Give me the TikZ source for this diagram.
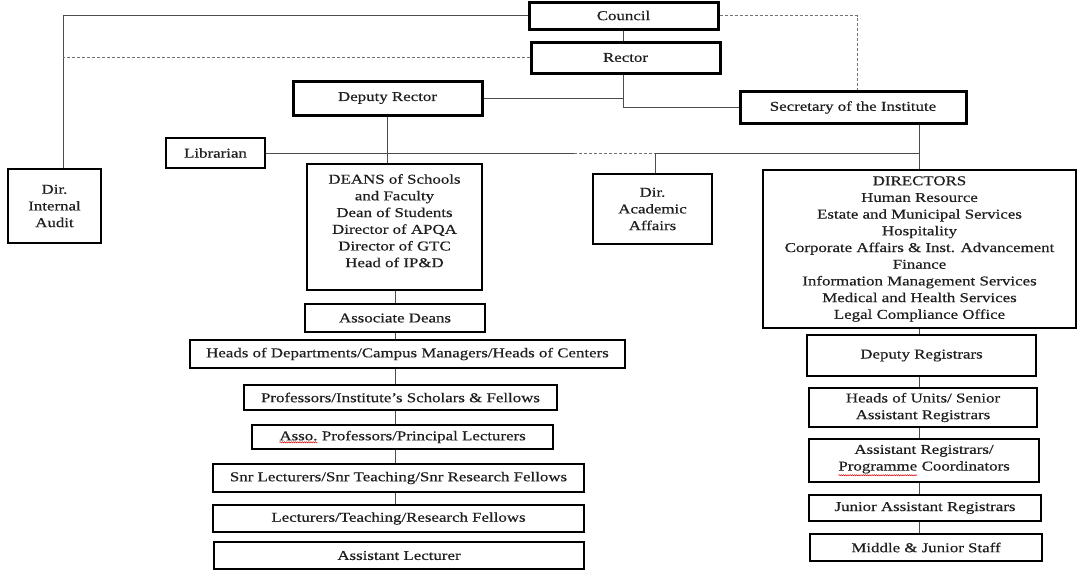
\documentclass[tikz,border=0pt]{standalone}
\usepackage{fontspec}
\setmainfont{Liberation Serif}[FakeStretch=1.25, FakeBold=0.5]
\usetikzlibrary{decorations.pathmorphing}

\tikzset{>=latex}

% red spell-check wave under a word
\newcommand{\spellerr}[1]{\tikz[baseline=(sp.base)]{\node[draw=none, inner sep=0pt, outer sep=0pt, minimum size=0pt] (sp) {#1};
	\draw[red!85!black, line width=0.5pt, decorate, decoration={snake, amplitude=0.6pt, segment length=2.2pt}] ([yshift=-1.8pt]sp.south west) -- ([yshift=-1.8pt]sp.south east);}}

\begin{document}
\begin{tikzpicture}[x=1pt, y=-1pt]
	\tikzstyle{post} = [rectangle, draw=black, line width=1.2pt, align=center, inner sep=1pt, text=black!88, font=\fontsize{13.5}{16.7}\selectfont]
	\tikzstyle{keypost} = [post, line width=3pt]
	\tikzstyle{link} = [draw=black!70, line width=0.9pt]
	\tikzstyle{dashlink} = [draw=black!55, line width=0.8pt, dash pattern=on 3pt off 2pt]

	\useasboundingbox (0,0) rectangle (1080,574);

%----------Top of the chart------------------------------
	\node[keypost, minimum width=189, minimum height=27] (council) at (623.5,15.5) {Council};
	\node[keypost, minimum width=189, minimum height=31] (rector) at (625.5,57.5) {Rector};
	\node[keypost, minimum width=189, minimum height=34] (deputy) at (387.5,98) {Deputy Rector};
	\node[keypost, minimum width=226, minimum height=32] (secretary) at (853,107.5) {Secretary of the Institute};

	\node[post, minimum width=99, minimum height=30] (librarian) at (215.5,153) {Librarian};
	\node[post, minimum width=93, minimum height=74] (audit) at (54.5,206) {Dir.\\Internal\\Audit};
	\node[post, minimum width=119, minimum height=70] (academic) at (652.5,209) {Dir.\\Academic\\Affairs};

	\draw[link] (council.west) -| ([xshift=8.5pt]audit.north);
	\coordinate (auditdash) at ([xshift=8.5pt]audit.north |- rector.west);
	\draw[dashlink] (rector.west) -- (auditdash);
	\draw[link] (council.south) -- (council.south |- rector.north);
	\draw[dashlink] (council.east) -| ([xshift=4pt]secretary.north);
	\coordinate (rectorfoot) at ([xshift=-2pt]rector.south);
	\draw[link] (rectorfoot) |- (secretary.west);
	\draw[link] (deputy.east) -- (deputy.east -| rectorfoot);

%----------Academic side------------------------------
	\node[post, minimum width=175, minimum height=126] (deans) at (394.5,227)
		{DEANS of Schools\\and Faculty\\Dean of Students\\Director of APQA\\Director of GTC\\Head of IP\&D\\[-4pt]\mbox{}};
	\node[post, minimum width=180, minimum height=28] (assocdeans) at (395,318) {Associate Deans};
	\node[post, minimum width=435, minimum height=28] (hods) at (407.5,354) {Heads of Departments/Campus Managers/Heads of Centers};
	\node[post, minimum width=313, minimum height=25] (profs) at (400.5,397.5) {Professors/Institute’s Scholars \& Fellows};
	\node[post, minimum width=301, minimum height=24] (assoprofs) at (402.5,437) {\spellerr{Asso.} Professors/Principal Lecturers};
	\node[post, minimum width=371, minimum height=28] (snrlect) at (398.5,478) {Snr Lecturers/Snr Teaching/Snr Research Fellows};
	\node[post, minimum width=371, minimum height=27] (lect) at (398.5,518.5) {Lecturers/Teaching/Research Fellows};
	\node[post, minimum width=370, minimum height=27] (asstlect) at (399,555.5) {Assistant Lecturer};

	\draw[link] (deputy.south) -- (deputy.south |- deans.north);
	\foreach \a/\b in {deans/assocdeans, assocdeans/hods, hods/profs, profs/assoprofs, assoprofs/snrlect, snrlect/lect}
		\draw[link] (\a.south -| assocdeans.south) -- (\b.north -| assocdeans.south);

%----------Administrative side------------------------------
	\node[post, minimum width=313, minimum height=158] (directors) at (919.5,249)
		{DIRECTORS\\Human Resource\\Estate and Municipal Services\\Hospitality\\Corporate Affairs \& Inst. Advancement\\Finance\\Information Management Services\\Medical and Health Services\\Legal Compliance Office};
	\node[post, minimum width=229, minimum height=41] (depreg) at (921.5,355.5) {Deputy Registrars};
	\node[post, minimum width=228, minimum height=39] (unitheads) at (923,407.5) {Heads of Units/ Senior\\Assistant Registrars};
	\node[post, minimum width=230, minimum height=43] (asstreg) at (924,460.5) {Assistant Registrars/\\\spellerr{Programme} Coordinators};
	\node[post, minimum width=232, minimum height=26] (juniorreg) at (925,508) {Junior Assistant Registrars};
	\node[post, minimum width=232, minimum height=27] (staff) at (926,547.5) {Middle \& Junior Staff};

	\draw[link] (secretary.south -| directors.north) -- (directors.north);
	\coordinate (acadjoin) at ([xshift=2.5pt]academic.north |- librarian.east);
	\coordinate (libsplit) at (574,153);
	\draw[link] (librarian.east) -- (libsplit);
	\draw[dashlink] (libsplit) -- (acadjoin);
	\draw[link] (acadjoin) -- (acadjoin -| directors.north);
	\draw[link] (acadjoin) -- (acadjoin |- academic.north);
	\foreach \a/\b in {directors/depreg, depreg/unitheads, unitheads/asstreg, asstreg/juniorreg, juniorreg/staff}
		\draw[link] (\a.south -| directors.north) -- (\b.north -| directors.north);

\end{tikzpicture}
\end{document}
